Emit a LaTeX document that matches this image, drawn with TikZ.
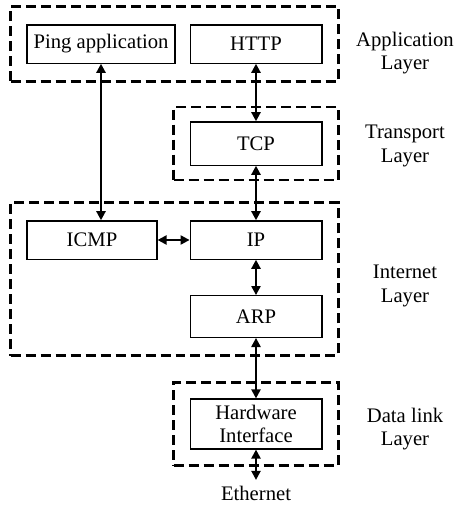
\documentclass[tikz,border=0pt]{standalone}
\usepackage{fontspec}
\setmainfont{Liberation Serif}
\usepackage{tikz}
\usetikzlibrary{arrows.meta,positioning,fit,calc}

\begin{document}
\begin{tikzpicture}[
  x=0.6pt, y=-0.6pt,
  font=\fontsize{12.4}{14}\selectfont,
  proto/.style={draw, line width=0.8pt, minimum width=79pt, minimum height=23pt, inner xsep=3.9pt, align=center},
  layer/.style={draw, dashed, dash pattern=on 6pt off 3pt, line width=1.5pt, inner sep=9.5pt},
  arrow/.style={{Triangle[length=5.4pt,width=5.6pt]}-{Triangle[length=5.4pt,width=5.6pt]}, line width=0.9pt},
  lbl/.style={align=center}
]
  \useasboundingbox (0,0) rectangle (465,511);

  % protocol boxes
  \node[proto] (ping) at (101,44) {Ping application};
  \node[proto] (http) at (256,44) {HTTP};
  \node[proto, minimum height=26pt] (tcp) at (256,143.5) {TCP};
  \node[proto, minimum width=78pt] (icmp) at (92,240) {ICMP};
  \node[proto] (ip) at (256,240) {IP};
  \node[proto, minimum height=25pt] (arp) at (256,316.5) {ARP};
  \node[proto, minimum height=30pt] (hw) at (256,424) {Hardware\\Interface};
  \node (eth) at (256,493) {Ethernet};

  % dashed layers
  \node[layer, fit=(ping)(http), inner ysep=10.5pt] (app) {};
  \node[layer, fit=(tcp), inner ysep=8.5pt] (trans) {};
  \node[layer, fit=(icmp)(ip)(arp), inner ysep=10.5pt] (inet) {};
  \node[layer, fit=(hw), inner ysep=9.5pt] (link) {};

  % layer names
  \node[lbl] (applbl) at (405,53) {Application\\Layer};
  \node[lbl] (translbl) at (405,146) {Transport\\Layer};
  \node[lbl] (inetlbl) at (405,286) {Internet\\Layer};
  \node[lbl] (linklbl) at (405,429) {Data link\\Layer};

  % connections
  \draw[arrow] (ping.south) -- (ping.south |- icmp.north);
  \draw[arrow] (http) -- (tcp);
  \draw[arrow] (tcp) -- (ip);
  \draw[arrow] (icmp) -- (ip);
  \draw[arrow] (ip) -- (arp);
  \draw[arrow] (arp) -- (hw);
  \draw[arrow] (hw) -- (eth);
\end{tikzpicture}
\end{document}
